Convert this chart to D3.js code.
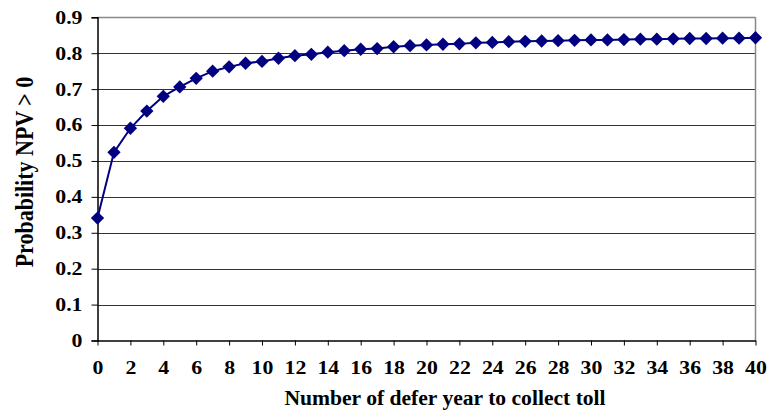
<!DOCTYPE html>
<html><head><meta charset="utf-8">
<script src="https://cdn.jsdelivr.net/npm/d3@7"></script>
<style>body{margin:0;background:#fff}</style>
</head><body>
<svg id="c" width="767" height="412"></svg>
<script>
const years = d3.range(0, 41);
const probability = [0.341,0.524,0.591,0.639,0.680,0.706,0.730,0.750,0.762,0.772,
  0.777,0.786,0.793,0.797,0.803,0.807,0.811,0.813,0.818,0.821,
  0.823,0.825,0.826,0.829,0.830,0.832,0.833,0.834,0.835,0.836,
  0.837,0.837,0.838,0.839,0.839,0.840,0.841,0.841,0.842,0.842,0.843];
const xTicks = d3.range(0, 41, 2);
const yTicks = [0,0.1,0.2,0.3,0.4,0.5,0.6,0.7,0.8,0.9];
const xTitle = "Number of defer year to collect toll";
const yTitle = "Probability NPV > 0";

const FONT = "'Liberation Serif','Times New Roman',serif";
const svg = d3.select("#c");
const L = 97.5, R = 755.5, T = 17.3, B = 340.5;
const x = d3.scaleLinear().domain([0, 40]).range([L, R]);
const y = d3.scaleLinear().domain([0, 0.9]).range([B, T]);

// gridlines
svg.append("g").selectAll("line").data(yTicks.filter(v => v > 0 && v < 0.9)).join("line")
  .attr("x1", L).attr("x2", R).attr("y1", d => Math.round(y(d)) + 0.5).attr("y2", d => Math.round(y(d)) + 0.5)
  .attr("stroke", "#333").attr("stroke-width", 1);
// top and right border
svg.append("line").attr("x1", L).attr("x2", R).attr("y1", Math.round(T)+0.5).attr("y2", Math.round(T)+0.5)
  .attr("stroke", "#888").attr("stroke-width", 1.5);
svg.append("line").attr("x1", R).attr("x2", R).attr("y1", T).attr("y2", B)
  .attr("stroke", "#888").attr("stroke-width", 1.5);

function styleText(sel) {
  sel.style("font-family", FONT).style("font-weight", "bold").style("font-size", "18.5px").style("fill", "#000");
}

// y axis
const yAxis = svg.append("g").attr("transform", `translate(${L},0)`)
  .call(d3.axisLeft(y).tickValues(yTicks).tickSize(6).tickPadding(8).tickFormat(d => d === 0 ? "0" : d3.format(".1f")(d)));
yAxis.attr("font-family", null).attr("font-size", null);
yAxis.select(".domain").attr("stroke", "#000").attr("stroke-width", 1.5);
yAxis.selectAll(".tick line").attr("stroke", "#000");
yAxis.selectAll(".tick text").call(styleText)
  .each(function() {
    const t = d3.select(this); const xx = (+t.attr("x") || -14) - 1;
    t.attr("x", null).attr("transform", `translate(${xx},0) scale(1.18,1)`);
  });

// x axis
const xAxis = svg.append("g").attr("transform", `translate(0,${B})`)
  .call(d3.axisBottom(x).tickValues(xTicks).tickSize(5).tickPadding(15).tickSizeOuter(0));
xAxis.attr("font-family", null).attr("font-size", null);
xAxis.select(".domain").attr("stroke", "#000").attr("stroke-width", 1.5);
xAxis.selectAll(".tick line").attr("stroke", "#000");
xAxis.selectAll(".tick text").call(styleText)
  .each(function() {
    const t = d3.select(this); const yy = +t.attr("y");
    t.attr("y", null).attr("transform", `translate(0,${yy}) scale(1.18,1)`);
  });

// line
svg.append("path").datum(years)
  .attr("fill", "none").attr("stroke", "#000080").attr("stroke-width", 2)
  .attr("d", d3.line().x(d => x(d)).y(d => y(probability[d])));
// markers
svg.append("g").selectAll("path").data(years).join("path")
  .attr("transform", d => `translate(${x(d)},${y(probability[d])}) rotate(45)`)
  .attr("d", "M-4.7,-4.7H4.7V4.7H-4.7Z").attr("fill", "#000080");

// titles
svg.append("text").attr("x", 0).attr("y", 0)
  .attr("transform", `translate(445,405) scale(1.08,1)`).attr("text-anchor", "middle")
  .style("font-family", FONT).style("font-weight", "bold").style("font-size", "20px").text(xTitle);
svg.append("text").attr("text-anchor", "middle")
  .style("font-family", FONT).style("font-weight", "bold").style("font-size", "22px")
  .attr("transform", "translate(33,172) rotate(-90) scale(1,1.1)").text(yTitle);
</script>
</body></html>
